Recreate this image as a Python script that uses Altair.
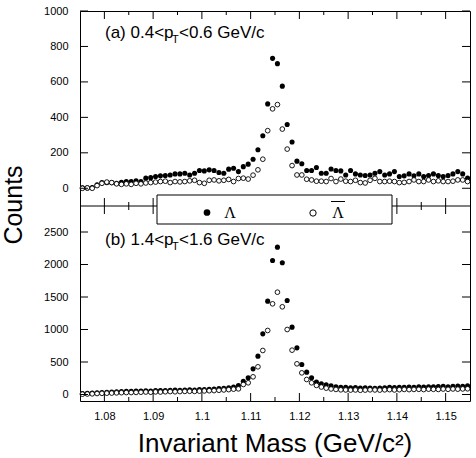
import altair as alt
import pandas as pd

FONT = "Liberation Sans"
SERIF = "Liberation Serif"

# Invariant-mass bin centres (1 MeV bins)
mass = [round(1.0755 + 0.001 * k, 4) for k in range(80)]

# (a) 0.4 < pT < 0.6 GeV/c
lam_a = [3, 2, 4, 19, 32, 32, 32, 28, 34, 38,
         38, 42, 38, 57, 60, 66, 70, 72, 75, 81,
         81, 85, 75, 85, 100, 98, 104, 100, 89, 85,
         108, 113, 94, 122, 136, 164, 217, 296, 476, 733,
         703, 576, 360, 261, 153, 138, 100, 100, 117, 85,
         85, 109, 100, 98, 75, 100, 81, 75, 72, 75,
         85, 94, 75, 81, 94, 66, 70, 81, 70, 81,
         66, 72, 81, 72, 66, 72, 81, 94, 81, 57]
alam_a = [0, 2, 0, 15, 28, 35, 32, 25, 22, 25,
          22, 28, 25, 30, 32, 35, 38, 40, 32, 38,
          36, 38, 42, 45, 32, 28, 45, 47, 42, 45,
          50, 38, 55, 57, 52, 74, 104, 164, 325, 448,
          472, 334, 221, 128, 75, 75, 51, 47, 40, 40,
          38, 55, 38, 52, 40, 38, 45, 32, 30, 45,
          56, 38, 38, 40, 38, 32, 33, 38, 47, 38,
          38, 47, 38, 42, 38, 38, 40, 47, 47, 38]

# (b) 1.4 < pT < 1.6 GeV/c
lam_b = [15, 20, 22, 28, 30, 35, 38, 40, 45, 48,
         50, 52, 55, 58, 55, 60, 62, 60, 65, 68,
         65, 70, 72, 70, 75, 78, 80, 85, 90, 95,
         105, 115, 138, 205, 256, 395, 590, 933, 1436, 2062,
         2267, 2026, 1446, 1036, 718, 462, 344, 256, 190, 165,
         150, 135, 120, 110, 112, 105, 108, 100, 102, 98,
         95, 100, 105, 110, 108, 112, 110, 115, 112, 118,
         115, 120, 118, 122, 125, 120, 128, 130, 125, 132]
alam_b = [5, 8, 10, 15, 18, 20, 22, 25, 28, 30,
          30, 32, 35, 38, 35, 40, 38, 42, 45, 42,
          45, 48, 50, 48, 52, 55, 58, 60, 65, 70,
          75, 82, 87, 154, 180, 272, 426, 677, 985, 1395,
          1574, 1349, 1000, 682, 472, 333, 231, 180, 140, 115,
          98, 85, 78, 72, 70, 68, 70, 65, 68, 72,
          70, 68, 72, 75, 70, 74, 78, 75, 78, 80,
          76, 82, 80, 78, 84, 80, 85, 82, 86, 88]

x_major = [1.08, 1.09, 1.10, 1.11, 1.12, 1.13, 1.14, 1.15]
x_minor = [1.085, 1.095, 1.105, 1.115, 1.125, 1.135, 1.145]
y_ticks_a = [0, 200, 400, 600, 800, 1000]
y_ticks_b = [0, 500, 1000, 1500, 2000, 2500]

label_a = ["(a) 0.4<p", "T", "<0.6 GeV/c"]
label_b = ["(b) 1.4<p", "T", "<1.6 GeV/c"]
legend_names = ["\u039b", "\u039b"]
x_title = "Invariant Mass (GeV/c\u00b2)"
y_title = "Counts"

W, H = 390, 390
MID = 195


def xenc():
    return alt.X("mass:Q",
                 scale=alt.Scale(domain=[1.075, 1.155], nice=False, zero=False),
                 axis=alt.Axis(values=x_major, format="~g", ticks=False, tickSize=0,
                               domain=False, grid=False, labelFontSize=11,
                               labelFont=FONT, labelColor="black", labelPadding=9,
                               title=None))


def yenc(domain, rng, values):
    return alt.Y("count:Q",
                 scale=alt.Scale(domain=domain, range=rng, nice=False, zero=False),
                 axis=alt.Axis(orient="left", values=values, format="d", ticks=False,
                               tickSize=0, domain=False, grid=False, labelFontSize=11,
                               labelFont=FONT, labelColor="black", labelPadding=12,
                               title=None))


def panel(lam, alam, domain, rng, yt):
    df_l = pd.DataFrame({"mass": mass, "count": lam})
    df_al = pd.DataFrame({"mass": mass, "count": alam})
    df_t = pd.DataFrame({"count": yt})
    filled = alt.Chart(df_l).mark_circle(size=26, color="black", opacity=1).encode(
        x=xenc(), y=yenc(domain, rng, yt))
    hollow = alt.Chart(df_al).mark_circle(size=22, fill="white", stroke="black",
                                          strokeWidth=0.9, opacity=1).encode(
        x=xenc(), y=yenc(domain, rng, yt))
    left = alt.Chart(df_t).mark_rule(color="black").encode(
        x=alt.value(0), x2=alt.value(8), y=yenc(domain, rng, yt))
    right = alt.Chart(df_t).mark_rule(color="black").encode(
        x=alt.value(W - 8), x2=alt.value(W), y=yenc(domain, rng, yt))
    return alt.layer(filled, hollow, left, right)


def xticks(values, length):
    df = pd.DataFrame({"mass": values})
    segs = [(0, length), (MID - length, MID), (MID, MID + length), (H - length, H)]
    return [alt.Chart(df).mark_rule(color="black").encode(
        x=xenc(), y=alt.value(a), y2=alt.value(b)) for a, b in segs]


def text(s, x, y, size, font=FONT, align="left", angle=None):
    kw = dict(align=align, baseline="alphabetic", fontSize=size, font=font, color="black")
    if angle is not None:
        kw["angle"] = angle
    return alt.Chart(pd.DataFrame({"t": [s]})).mark_text(**kw).encode(
        text="t:N", x=alt.value(x), y=alt.value(y))


one = pd.DataFrame({"name": legend_names[:1]})
midline = alt.Chart(one).mark_rule(color="black").encode(
    x=alt.value(0), x2=alt.value(W), y=alt.value(MID))
box = alt.Chart(one).mark_rect(fill="white", stroke="black", strokeWidth=1).encode(
    x=alt.value(77), x2=alt.value(312), y=alt.value(184), y2=alt.value(213))
dot_l = alt.Chart(one).mark_circle(size=45, color="black", opacity=1).encode(
    x=alt.value(127), y=alt.value(201.5))
dot_al = alt.Chart(one).mark_circle(size=40, fill="white", stroke="black",
                                    strokeWidth=1, opacity=1).encode(
    x=alt.value(233), y=alt.value(202))
bar = alt.Chart(one).mark_rule(color="black", strokeWidth=1).encode(
    x=alt.value(251), x2=alt.value(265), y=alt.value(190.5))

frame = alt.layer(
    *xticks(x_major, 8), *xticks(x_minor, 4),
    midline, box, dot_l, dot_al, bar,
    text(legend_names[0], 150, 207, 16, font=SERIF, align="center"),
    text(legend_names[1], 258, 207, 16, font=SERIF, align="center"),
    text(label_a[0], 25, 27, 17), text(label_a[1], 92, 32, 11), text(label_a[2], 99, 27, 17),
    text(label_b[0], 25, 234, 17), text(label_b[1], 92, 239, 11), text(label_b[2], 99, 234, 17),
    text(x_title, W / 2, 441, 26, align="center"),
    text(y_title, -58, 194, 25, align="center", angle=270),
)

chart = alt.layer(
    panel(lam_a, alam_a, [-100, 1000], [MID, 0], y_ticks_a),
    panel(lam_b, alam_b, [-100, 2900], [H, MID], y_ticks_b),
    frame,
).resolve_scale(y="independent").properties(
    width=W, height=H,
    autosize=alt.AutoSizeParams(type="none"),
    padding={"left": 80, "top": 11, "right": 6, "bottom": 57},
    background="white",
).configure_view(stroke="black", strokeWidth=1)

chart.save("out.html", embed_options={"renderer": "svg", "actions": False})
